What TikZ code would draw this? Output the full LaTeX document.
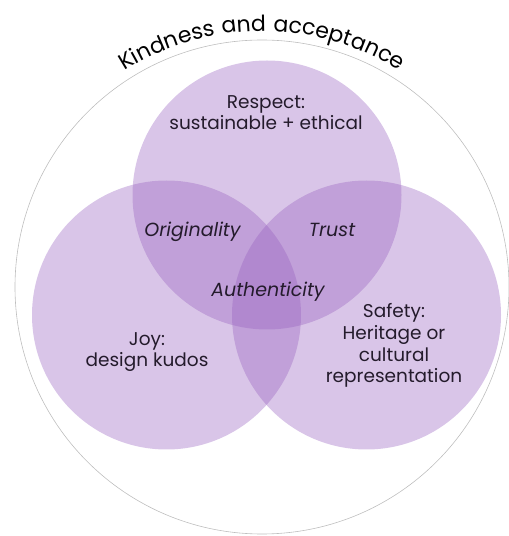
\documentclass[tikz,border=0pt]{standalone}
\usepackage{fontspec}
\setmainfont{Poppins}
\newfontfamily\arcfont[LetterSpace=5]{Poppins}
\usetikzlibrary{decorations.text}
\definecolor{vennfill}{RGB}{150,95,190}
\definecolor{txt}{RGB}{36,27,44}
\definecolor{ring}{RGB}{190,190,190}
\tikzset{
  venn/.style={fill=vennfill, fill opacity=0.36, draw=none},
  lbl/.style={text=txt, font=\fontsize{18.5}{21.7}\selectfont, align=center, inner sep=0pt},
  ilbl/.style={text=txt, font=\fontsize{19}{21}\selectfont\itshape, inner sep=0pt}
}
\begin{document}
\begin{tikzpicture}[x=1pt,y=1pt]
\useasboundingbox (0,0) rectangle (509,536);
% outer ring
\draw[ring, line width=0.6pt] (262,249) circle[radius=247];
% venn circles
\fill[venn] (267,341) circle[radius=134.5];
\fill[venn] (166.5,221) circle[radius=134.5];
\fill[venn] (366.5,221) circle[radius=134.5];
% arc text
\path[decorate, decoration={text along path, text align=center,
  text={|\arcfont\fontsize{22}{22}\selectfont\color{black}|Kindness and acceptance}}]
  (262,249) ++(150:256) arc[start angle=150, end angle=30, radius=256];
% labels
\node[lbl, anchor=base] (respect) at (266,406) {Respect:\\sustainable + ethical};
\node[ilbl, anchor=base] (orig) at (192.5,299) {Originality};
\node[ilbl, anchor=base] (trust) at (332,299) {Trust};
\node[ilbl, anchor=base] (auth) at (268,239) {Authenticity};
\node[lbl, anchor=base] (joy) at (147,169) {Joy:\\design kudos};
\node[lbl, anchor=base] (safety) at (394,153) {Safety:\\Heritage or\\cultural\\representation};
\end{tikzpicture}
\end{document}
